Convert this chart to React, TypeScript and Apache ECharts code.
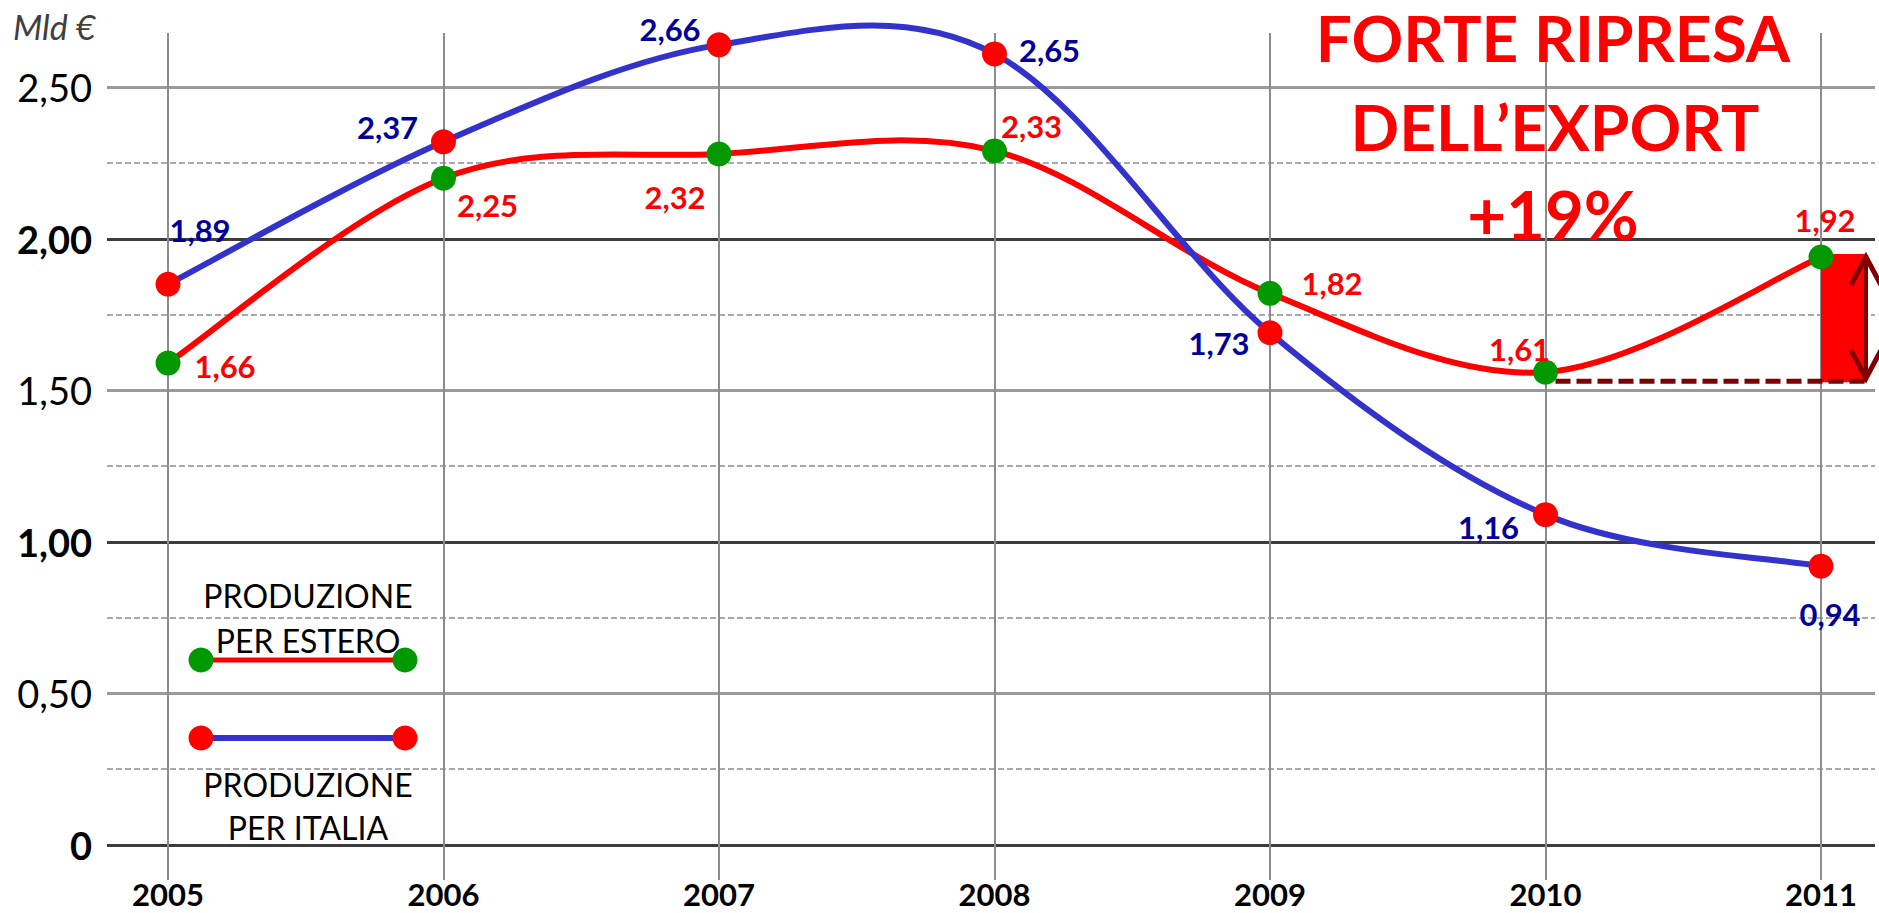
import React, { useEffect, useRef } from "react";
import * as echarts from "echarts";

// ---------- data ----------
const years = ["2005", "2006", "2007", "2008", "2009", "2010", "2011"];
const italiaValues = [1.85, 2.32, 2.64, 2.61, 1.69, 1.09, 0.92];
const esteroValues = [1.59, 2.2, 2.28, 2.29, 1.82, 1.56, 1.94];
const italiaLabels = ["1,89", "2,37", "2,66", "2,65", "1,73", "1,16", "0,94"];
const esteroLabels = ["1,66", "2,25", "2,32", "2,33", "1,82", "1,61", "1,92"];
const titleLines = ["FORTE RIPRESA", "DELL\u2019EXPORT", "+19%"];
const legendEstero = ["PRODUZIONE", "PER ESTERO"];
const legendItalia = ["PRODUZIONE", "PER ITALIA"];
const unitLabel = "Mld \u20ac";

// ---------- styles ----------
const FONT = "Lato, 'Open Sans', sans-serif";
const BLUE = "#3333CC";
const NAVY = "#000099";
const RED = "#FF0000";
const GREEN = "#009900";
const DARKRED = "#800000";
const italiaLabelOffsets = [[32, -54], [-56, -15], [-49, -16], [55, -4], [-51, 10], [-57, 12], [9, 48]];
const esteroLabelOffsets = [[57, 3], [44, 27], [-44, 43], [37, -25], [62, -10], [-26, -23], [4, -37]];

function fmtTick(v: number): string {
  const s = v === 0 ? "0" : v.toFixed(2).replace(".", ",");
  return Math.abs(v - Math.round(v)) < 1e-9 ? `{b|${s}}` : `{r|${s}}`;
}

function txt(text: string, x: number, y: number, font: string, fill: string, align = "center") {
  return {
    type: "text",
    x,
    y,
    z: 100,
    style: {
      text,
      font,
      fill,
      textAlign: align,
      align,
      textVerticalAlign: "middle",
      verticalAlign: "middle",
    },
  };
}

function legendGraphic(lines: string[], lineY: number, textY: number[], lineColor: string, dotColor: string, lineWidth: number) {
  const els: any[] = [];
  els.push({ type: "line", z: 100, shape: { x1: 201, y1: lineY, x2: 405, y2: lineY }, style: { stroke: lineColor, lineWidth } });
  els.push({ type: "circle", z: 101, shape: { cx: 201, cy: lineY, r: 12.5 }, style: { fill: dotColor } });
  els.push({ type: "circle", z: 101, shape: { cx: 405, cy: lineY, r: 12.5 }, style: { fill: dotColor } });
  lines.forEach((t, i) => els.push(txt(t, 308, textY[i], `32px ${FONT}`, "#000")));
  return els;
}

// Catmull-Rom style smoothing (as in spreadsheet "smoothed line"), segment by segment
function smoothRenderer(values: number[], color: string) {
  return (params: any, api: any) => {
    const i = params.dataIndex;
    const n = values.length;
    if (i >= n - 1) return null;
    const P = (k: number) => {
      const j = Math.max(0, Math.min(n - 1, k));
      return api.coord([j, values[j]]);
    };
    const p0 = P(i - 1);
    const p1 = P(i);
    const p2 = P(i + 1);
    const p3 = P(i + 2);
    const t = 1 / 6;
    return {
      type: "bezierCurve",
      shape: {
        x1: p1[0],
        y1: p1[1],
        cpx1: p1[0] + (p2[0] - p0[0]) * t,
        cpy1: p1[1] + (p2[1] - p0[1]) * t,
        cpx2: p2[0] - (p3[0] - p1[0]) * t,
        cpy2: p2[1] - (p3[1] - p1[1]) * t,
        x2: p2[0],
        y2: p2[1],
      },
      style: { stroke: color, lineWidth: 6, fill: "none", lineCap: "round" },
    };
  };
}

export default function App() {
  const ref = useRef<HTMLDivElement>(null);

  useEffect(() => {
    if (!ref.current) return;
    const chart = echarts.init(ref.current, undefined, { renderer: "svg" });

    const baseGraphic: any[] = [
      txt(unitLabel, 13, 26, `italic 34px ${FONT}`, "#404040", "left"),
      txt(titleLines[0], 1553, 37, `bold 64px ${FONT}`, RED),
      txt(titleLines[1], 1555, 126, `bold 64px ${FONT}`, RED),
      txt(titleLines[2], 1553, 214, `bold 67px ${FONT}`, RED),
      ...legendGraphic(legendEstero, 660, [595, 640], RED, GREEN, 5),
      ...legendGraphic(legendItalia, 738, [784, 827], BLUE, RED, 6),
    ];

    const pointSeries = (name: string, values: number[], labels: string[], offsets: number[][], dot: string, labelColor: string, z: number) => ({
      name,
      type: "line",
      xAxisIndex: 2,
      yAxisIndex: 3,
      clip: false,
      symbol: "circle",
      symbolSize: 25,
      z,
      itemStyle: { color: dot },
      lineStyle: { opacity: 0, width: 0 },
      label: {
        show: true,
        position: "inside",
        formatter: (p: any) => labels[p.dataIndex],
        color: labelColor,
        fontSize: 31,
        fontWeight: "bold",
        fontFamily: FONT,
      },
      data: values.map((v, i) => ({ value: v, label: { offset: offsets[i] } })),
    });

    const option: any = {
      animation: false,
      backgroundColor: "#ffffff",
      grid: [
        { left: 107, right: 4, top: 87.25, bottom: 68 },
        { left: 168, right: 58, top: 33, bottom: 33 },
        { left: 168, right: 58, top: 11.5, bottom: 68 },
      ],
      xAxis: [
        { type: "value", gridIndex: 0, min: 0, max: 1, show: false },
        {
          type: "category",
          gridIndex: 1,
          data: years,
          boundaryGap: false,
          axisLine: { show: false },
          axisTick: { show: false },
          axisLabel: {
            interval: 0,
            margin: 14,
            verticalAlign: "middle",
            lineHeight: 26,
            color: "#000",
            fontSize: 31,
            fontWeight: "bold",
            fontFamily: FONT,
          },
          splitLine: { show: true, lineStyle: { color: "#8c8c8c", width: 2 } },
        },
        { type: "category", gridIndex: 2, data: years, boundaryGap: false, show: false },
      ],
      yAxis: [
        {
          type: "value",
          gridIndex: 0,
          position: "left",
          min: 0,
          max: 2.5,
          interval: 0.5,
          axisLine: { show: false },
          axisTick: { show: false },
          axisLabel: {
            margin: 15,
            formatter: fmtTick,
            rich: {
              b: { fontSize: 38, fontWeight: "bold", fontFamily: FONT, color: "#000" },
              r: { fontSize: 38, fontWeight: "normal", fontFamily: FONT, color: "#000" },
            },
          },
          splitLine: { show: true, lineStyle: { color: ["#3c3c3c", "#9a9a9a"], width: 3 } },
        },
        {
          type: "value",
          gridIndex: 0,
          position: "left",
          min: 0,
          max: 2.5,
          interval: 0.25,
          axisLine: { show: false },
          axisTick: { show: false },
          axisLabel: { show: false },
          splitLine: { show: true, lineStyle: { color: ["rgba(0,0,0,0)", "#a8a8a8"], width: 2, type: [6, 3] } },
        },
        { type: "value", gridIndex: 1, min: 0, max: 1, show: false, splitLine: { show: false } },
        { type: "value", gridIndex: 2, min: 0, max: 2.75, show: false, splitLine: { show: false } },
      ],
      series: [
        {
          name: "curve estero",
          type: "custom",
          xAxisIndex: 2,
          yAxisIndex: 3,
          z: 2,
          renderItem: smoothRenderer(esteroValues, RED),
          data: esteroValues.map((v, i) => [i, v]),
          silent: true,
        },
        {
          name: "curve italia",
          type: "custom",
          xAxisIndex: 2,
          yAxisIndex: 3,
          z: 2,
          renderItem: smoothRenderer(italiaValues, BLUE),
          data: italiaValues.map((v, i) => [i, v]),
          silent: true,
        },
        pointSeries("PRODUZIONE PER ESTERO", esteroValues, esteroLabels, esteroLabelOffsets, GREEN, RED, 3),
        pointSeries("PRODUZIONE PER ITALIA", italiaValues, italiaLabels, italiaLabelOffsets, RED, NAVY, 4),
      ],
      graphic: baseGraphic,
    };

    chart.setOption(option);

    // annotation: export growth 2010 -> 2011
    const a = chart.convertToPixel({ xAxisIndex: 2, yAxisIndex: 3 } as any, [years[5], esteroValues[5]]) as number[];
    const b = chart.convertToPixel({ xAxisIndex: 2, yAxisIndex: 3 } as any, [years[6], esteroValues[6]]) as number[];
    const baseY = a[1] + 9;
    const topY = b[1] - 3;
    const ax = b[0] + 45;
    const annotation: any[] = [
      { type: "rect", z: 1, shape: { x: b[0], y: topY, width: 46, height: baseY - topY + 1 }, style: { fill: RED } },
      {
        type: "line",
        z: 1,
        shape: { x1: a[0] + 10, y1: baseY, x2: ax + 2, y2: baseY },
        style: { stroke: DARKRED, lineWidth: 5, lineDash: [15, 6] },
      },
      { type: "line", z: 1, shape: { x1: ax, y1: topY + 2, x2: ax, y2: baseY - 2 }, style: { stroke: DARKRED, lineWidth: 4 } },
      {
        type: "polyline",
        z: 1,
        shape: { points: [[ax - 15, topY + 31], [ax, topY + 3], [ax + 15, topY + 31]] },
        style: { stroke: DARKRED, lineWidth: 5, fill: "none" },
      },
      {
        type: "polyline",
        z: 1,
        shape: { points: [[ax - 15, baseY - 31], [ax, baseY - 3], [ax + 15, baseY - 31]] },
        style: { stroke: DARKRED, lineWidth: 5, fill: "none" },
      },
    ];
    chart.setOption({ graphic: [...baseGraphic, ...annotation] });

    return () => chart.dispose();
  }, []);

  return (
    <div
      ref={ref}
      style={{ position: "absolute", left: 0, top: 0, width: 1879, height: 913, background: "#fff" }}
    />
  );
}
